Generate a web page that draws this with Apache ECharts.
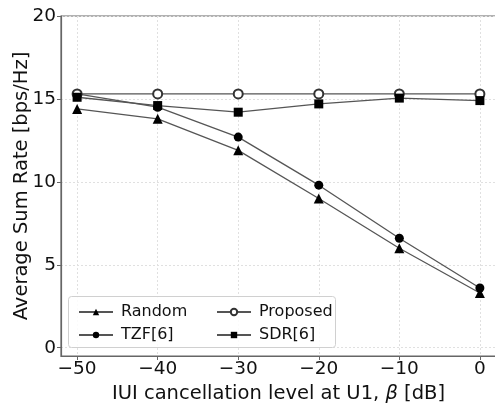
<!DOCTYPE html>
<html><head><meta charset="utf-8">
<script src="https://cdn.jsdelivr.net/npm/echarts@6/dist/echarts.min.js"></script>
<style>html,body{margin:0;padding:0;background:#fff}#c{width:495px;height:404px}</style>
</head><body><div id="c"></div>
<script>
const xValues = [-50, -40, -30, -20, -10, 0];
const randomRate = [14.4, 13.8, 11.9, 9.0, 6.0, 3.3];
const tzfRate = [15.3, 14.5, 12.7, 9.8, 6.6, 3.6];
const proposedRate = [15.3, 15.3, 15.3, 15.3, 15.3, 15.3];
const sdrRate = [15.1, 14.6, 14.2, 14.7, 15.05, 14.9];
const xTicks = [-50, -40, -30, -20, -10, 0];
const yTicks = [0, 5, 10, 15, 20];

const FONT = 'DejaVu Sans';
const chart = echarts.init(document.getElementById('c'), null, {renderer: 'canvas'});
const pair = (ys) => xValues.map((x, i) => [x, ys[i]]);
const lineBase = {
  type: 'line',
  clip: false,
  lineStyle: {color: '#555', width: 1.3},
  itemStyle: {color: '#000', borderColor: '#000', borderWidth: 0},
  emphasis: {disabled: true},
  animation: false,
  z: 3
};
const legendText = {fontFamily: FONT, fontSize: 16, color: '#111', lineHeight: 16, padding: [0, 0, 0, 3]};
chart.setOption({
  animation: false,
  textStyle: {fontFamily: FONT},
  grid: {left: 61, top: 16, width: 435, height: 340, show: true, borderColor: '#666', borderWidth: 1.2, backgroundColor: 'transparent', outerBoundsMode: 'none', containLabel: false},
  graphic: [{
    type: 'rect', left: 68, top: 296, z: 50,
    shape: {width: 267, height: 51, r: 3},
    style: {fill: 'rgba(255,255,255,0.85)', stroke: '#d0d0d0', lineWidth: 1}
  }],
  legend: [{
    orient: 'vertical', left: 73, top: 299, z: 60,
    itemWidth: 34, itemHeight: 8, itemGap: 7,
    data: ['Random', 'TZF[6]'],
    textStyle: legendText,
    selectedMode: false
  }, {
    orient: 'vertical', left: 211, top: 299, z: 60,
    itemWidth: 34, itemHeight: 8, itemGap: 7,
    data: ['Proposed', 'SDR[6]'],
    textStyle: legendText,
    selectedMode: false
  }],
  xAxis: {
    type: 'value', min: -52, max: 2,
    name: '{a|IUI cancellation level at U1, }{b|β}{a| [dB]}',
    nameLocation: 'middle', nameGap: 27,
    nameTextStyle: {rich: {a: {fontFamily: FONT, fontSize: 19.5, color: '#111'}, b: {fontFamily: FONT, fontSize: 19.5, fontStyle: 'italic', color: '#111'}}},
    axisLine: {show: true, onZero: false, lineStyle: {color: '#666', width: 1.2}},
    axisTick: {show: true, length: 4, lineStyle: {color: '#666'}, customValues: xTicks},
    axisLabel: {customValues: xTicks, fontFamily: FONT, fontSize: 18.5, color: '#111', margin: 4,
      formatter: v => String(v).replace('-', '\u2212')},
    splitLine: {show: true, lineStyle: {color: '#e0e0e0', type: [2, 2], width: 1}}
  },
  yAxis: {
    type: 'value', min: -0.5, max: 20,
    name: 'Average Sum Rate [bps/Hz]',
    nameLocation: 'middle', nameGap: 29, nameMoveOverlap: false,
    nameTextStyle: {fontFamily: FONT, fontSize: 19.5, color: '#111'},
    axisLine: {show: true, onZero: false, lineStyle: {color: '#666', width: 1.2}},
    axisTick: {show: true, length: 4, lineStyle: {color: '#666'}, customValues: yTicks},
    axisLabel: {customValues: yTicks, fontFamily: FONT, fontSize: 18.5, color: '#111', margin: 5},
    splitLine: {show: true, lineStyle: {color: '#e0e0e0', type: [2, 2], width: 1}}
  },
  series: [
    Object.assign({}, lineBase, {name: 'Random', data: pair(randomRate), symbol: 'triangle', symbolSize: 10}),
    Object.assign({}, lineBase, {name: 'TZF[6]', data: pair(tzfRate), symbol: 'circle', symbolSize: 9}),
    Object.assign({}, lineBase, {name: 'Proposed', data: pair(proposedRate), symbol: 'emptyCircle', symbolSize: 9,
      itemStyle: {color: '#333', borderColor: '#333', borderWidth: 0.8}}),
    Object.assign({}, lineBase, {name: 'SDR[6]', data: pair(sdrRate), symbol: 'rect', symbolSize: 9})
  ]
});
</script></body></html>
